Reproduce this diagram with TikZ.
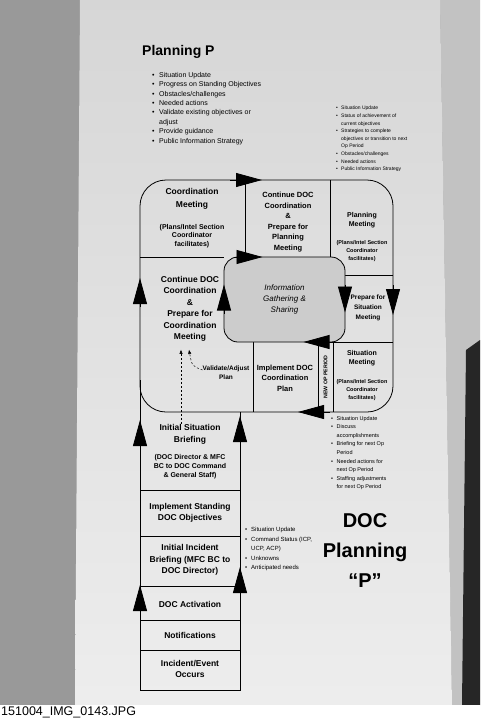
\documentclass[tikz,border=0pt]{standalone}
\usepackage{fontspec}
\setmainfont{Liberation Sans}
\usetikzlibrary{arrows.meta}
\definecolor{wall}{rgb}{0.60, 0.60, 0.60}
\definecolor{wallr}{rgb}{0.76, 0.76, 0.76}
\definecolor{papertop}{rgb}{0.84, 0.84, 0.84}
\definecolor{paperbot}{rgb}{0.93, 0.93, 0.93}
\definecolor{boxgray}{rgb}{0.80, 0.80, 0.80}
\newcommand{\fsz}[2]{\fontsize{#1}{#2}\selectfont}
\newcommand{\bl}{\makebox[1em][l]{\textbullet}}
\newcommand{\ind}{\hspace*{1em}}
\tikzset{
    frame/.style={line width=0.8pt},
    bigtip/.style={line width=0.8pt, -{Triangle[length=26pt, width=14pt]}},
    dasharrow/.style={line width=0.5pt, dash pattern=on 2pt off 2pt, -{Triangle[length=4pt, width=3pt]}},
    cellbig/.style={align=center, inner sep=0pt, font=\bfseries\fsz{8.5}{11.5}},
    cellsm/.style={align=center, inner sep=0pt, font=\bfseries\fsz{7}{8.5}},
    celltiny/.style={align=center, inner sep=0pt, font=\bfseries\fsz{5.5}{8}},
    notes/.style={align=left, anchor=north west, inner sep=0pt},
}

\begin{document}
\begin{tikzpicture}[x=1pt, y=-1pt]
    \useasboundingbox (0, 0) rectangle (480, 720);

    \fill [wall] (0, 0) rectangle (480, 705);
    \fill [wallr] (440, 0) -- (480, 0) -- (480, 705) -- (452, 705) -- cycle;
    \fill [black!85] (466, 350) -- (480, 340) -- (480, 705) -- (462, 705) -- cycle;
    \shade [top color=papertop, bottom color=paperbot] (80, 0) -- (440, 0) -- (452, 705) -- (75, 705) -- cycle;
    \fill [white] (0, 705) rectangle (480, 720);

    \node (title) at (142, 52) [anchor=west, inner sep=0pt, font=\bfseries\fsz{14}{16}] {Planning P};
    \node (topnotes) at (152, 72) [notes, font=\fsz{7}{9.4}] {\bl Situation Update\\ \bl Progress on Standing Objectives\\ \bl Obstacles/challenges\\ \bl Needed actions\\ \bl Validate existing objectives or\\ \ind adjust\\ \bl Provide guidance\\ \bl Public Information Strategy};
    \node (sitnotes) at (336, 106) [notes, font=\fsz{5}{7.6}] {\bl Situation Update\\ \bl Status of achievement of\\ \ind current objectives\\ \bl Strategies to complete\\ \ind objectives or transition to next\\ \ind Op Period\\ \bl Obstacles/challenges\\ \bl Needed actions\\ \bl Public Information Strategy};

    \node (loop) at (266.5, 296) [draw, frame, rounded corners=26pt, minimum width=253pt, minimum height=232pt, inner sep=0pt, outer sep=0pt] {};
    \draw [frame] (245, 180) -- (245, 257);
    \draw [frame] (330, 180) -- (330, 257);
    \draw [frame] (140, 257) -- (224, 257);
    \draw [frame] (345, 275) -- (393, 275);
    \draw [frame] (318, 342) -- (393, 342);
    \draw [frame] (318, 342) -- (318, 412);
    \draw [frame] (333, 342) -- (333, 412);
    \draw [frame] (253, 342) -- (253, 412);
    \node (infobox) at (284.5, 299.5) [draw, frame, fill=boxgray, rounded corners=14pt, minimum width=121pt, minimum height=85pt, inner sep=0pt, outer sep=0pt, align=center, font=\itshape\fsz{8}{11}] {Information\\Gathering \&\\Sharing};

    \draw [frame] (140, 380) -- (140, 690) -- (240, 690) -- (240, 412);
    \foreach \y in {490, 536, 586, 620, 650}
        \draw [frame] (140, \y) -- (240, \y);

    \node (coordmtg) at (192, 199) [cellbig, font=\bfseries\fsz{8.5}{12.5}] {Coordination\\Meeting};
    \node (coordsub) at (192, 236) [cellsm] {(Plans/Intel Section\\Coordinator\\facilitates)};
    \node (contplan) at (288, 222) [cellbig, font=\bfseries\fsz{7.5}{10.5}] {Continue DOC\\Coordination\\\&\\Prepare for\\Planning\\Meeting};
    \node (planmtg) at (362, 220) [cellsm] {Planning\\Meeting};
    \node (plansub) at (362, 251) [celltiny] {(Plans/Intel Section\\Coordinator\\facilitates)};
    \node (prepsit) at (368, 308) [cellsm, font=\bfseries\fsz{6.5}{10}] {Prepare for\\Situation\\Meeting};
    \node (sitmtg) at (362, 358) [cellsm] {Situation\\Meeting};
    \node (sitsub) at (362, 390) [celltiny] {(Plans/Intel Section\\Coordinator\\facilitates)};
    \node (newop) at (325.5, 377) [rotate=90, inner sep=0pt, font=\bfseries\fsz{5.3}{6}] {NEW OP PERIOD};
    \node (implplan) at (285, 378) [cellbig, font=\bfseries\fsz{7.5}{10.5}] {Implement DOC\\Coordination\\Plan};
    \node (valplan) at (226, 373) [cellsm, font=\bfseries\fsz{6.5}{9}] {Validate/Adjust\\Plan};
    \node (contcoord) at (190, 309) [cellbig] {Continue DOC\\Coordination\\\&\\Prepare for\\Coordination\\Meeting};

    \node (isb) at (190, 434) [cellbig, font=\bfseries\fsz{8.5}{12}] {Initial Situation\\Briefing};
    \node (isbsub) at (190, 467) [cellsm, font=\bfseries\fsz{7}{9}] {(DOC Director \& MFC\\BC to DOC Command\\\& General Staff)};
    \node (stdobj) at (190, 513) [cellbig] {Implement Standing\\DOC Objectives};
    \node (iib) at (190, 560) [cellbig] {Initial Incident\\Briefing (MFC BC to\\DOC Director)};
    \node (docact) at (190, 604) [cellbig] {DOC Activation};
    \node (notif) at (190, 635) [cellbig] {Notifications};
    \node (incident) at (190, 669) [cellbig] {Incident/Event\\Occurs};

    \draw [bigtip] ([yshift=-11pt]loop.west) -- ([yshift=18pt]loop.west);
    \draw [bigtip] ([xshift=-36.5pt]loop.north) -- ([xshift=-4.5pt]loop.north);
    \draw [bigtip] ([yshift=11pt]loop.east) -- ([yshift=-19pt]loop.east);
    \draw [bigtip] ([xshift=63.5pt]loop.south) -- ([xshift=31.5pt]loop.south);
    \draw [bigtip] ([xshift=-50pt]infobox.north) -- ([xshift=-22pt]infobox.north);
    \draw [bigtip] ([yshift=15pt]infobox.east) -- ([yshift=-13pt]infobox.east);
    \draw [bigtip] ([xshift=48pt]infobox.south) -- ([xshift=19pt]infobox.south);
    \draw [bigtip] ([yshift=-14pt]infobox.west) -- ([yshift=15pt]infobox.west);
    \draw [bigtip] (140, 450) -- (140, 420);
    \draw [bigtip] (240, 444) -- (240, 416);
    \draw [bigtip] (140, 613) -- (140, 585);
    \draw [bigtip] (240, 595) -- (240, 567);

    \draw [dasharrow] ([xshift=-9pt]isb.north) -- ([xshift=-9pt, yshift=-8pt]contcoord.south);
    \draw [dasharrow] ([yshift=3pt]valplan.west) .. controls (192, 366) .. ([xshift=-1pt, yshift=-8pt]contcoord.south);

    \node (sitmtgnotes) at (331, 416) [notes, font=\fsz{5.5}{8.6}] {\bl Situation Update\\ \bl Discuss\\ \ind accomplishments\\ \bl Briefing for next Op\\ \ind Period\\ \bl Needed actions for\\ \ind next Op Period\\ \bl Staffing adjustments\\ \ind for next Op Period};
    \node (briefnotes) at (245, 527) [notes, font=\fsz{6}{9.5}] {\bl Situation Update\\ \bl Command Status (ICP,\\ \ind UCP, ACP)\\ \bl Unknowns\\ \bl Anticipated needs};
    \node (bigtitle) at (365, 551) [align=center, inner sep=0pt, font=\bfseries\fsz{20}{30}] {DOC\\Planning\\“P”};

    \node (caption) at (1, 712.5) [anchor=west, inner sep=0pt, font=\fsz{12.5}{13}] {151004\_IMG\_0143.JPG};
  \end{tikzpicture}
\end{document}
